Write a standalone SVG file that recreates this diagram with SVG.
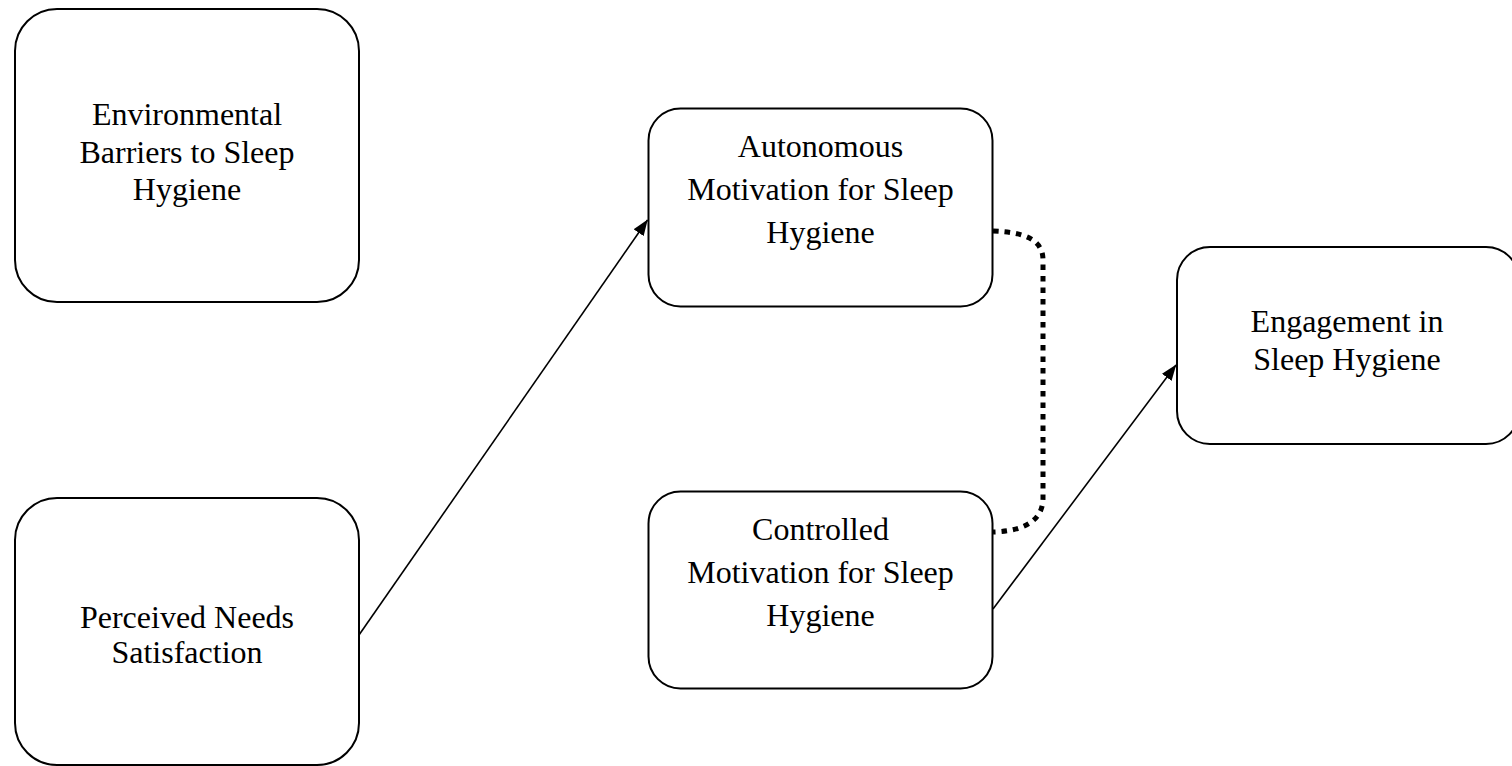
<svg xmlns="http://www.w3.org/2000/svg" width="1512" height="766" viewBox="0 0 1512 766">
  <defs>
    <style>
      .box { fill: #ffffff; stroke: #000000; stroke-width: 2; }
      .lbl { font-family: "Liberation Serif", "Times New Roman", serif; font-size: 32px; fill: #000000; text-anchor: middle; }
      .edge { fill: none; stroke: #000000; stroke-width: 1.6; }
      .dotted { fill: none; stroke: #000000; stroke-width: 5; stroke-dasharray: 5.5 6; }
    </style>
    <marker id="arrow" viewBox="0 0 16 12" refX="15.5" refY="6" markerWidth="16" markerHeight="12" markerUnits="userSpaceOnUse" orient="auto">
      <path d="M0,0 L16,6 L0,12 Z" fill="#000000"/>
    </marker>
  </defs>
  <rect width="1512" height="766" fill="#ffffff"/>

  <g id="node-environmental">
    <rect class="box" x="15" y="9" width="344" height="293" rx="42" ry="42"/>
    <text class="lbl" x="187" y="125">Environmental</text>
    <text class="lbl" x="187" y="163">Barriers to Sleep</text>
    <text class="lbl" x="187" y="200">Hygiene</text>
  </g>

  <g id="node-perceived">
    <rect class="box" x="15" y="498" width="344" height="267" rx="42" ry="42"/>
    <text class="lbl" x="187" y="628">Perceived Needs</text>
    <text class="lbl" x="187" y="663">Satisfaction</text>
  </g>

  <g id="node-autonomous">
    <rect class="box" x="648.5" y="108.5" width="344" height="198" rx="32" ry="32"/>
    <text class="lbl" x="820.5" y="157">Autonomous</text>
    <text class="lbl" x="820.5" y="200">Motivation for Sleep</text>
    <text class="lbl" x="820.5" y="242.5">Hygiene</text>
  </g>

  <g id="node-controlled">
    <rect class="box" x="648.5" y="491.5" width="344" height="197" rx="32" ry="32"/>
    <text class="lbl" x="820.5" y="540">Controlled</text>
    <text class="lbl" x="820.5" y="582.5">Motivation for Sleep</text>
    <text class="lbl" x="820.5" y="625.5">Hygiene</text>
  </g>

  <g id="node-engagement">
    <rect class="box" x="1177" y="247" width="342" height="197" rx="33" ry="33"/>
    <text class="lbl" x="1347" y="331.5">Engagement in</text>
    <text class="lbl" x="1347" y="370">Sleep Hygiene</text>
  </g>

  <g id="connectors">
    <line class="edge" x1="359" y1="635" x2="647.5" y2="220" marker-end="url(#arrow)"/>
    <line class="edge" x1="993" y1="609" x2="1176" y2="365" marker-end="url(#arrow)"/>
    <path class="dotted" d="M993,231 C1025,232 1043,240 1043,260 L1043,498 C1043,520 1025,531 993,532"/>
  </g>
</svg>
